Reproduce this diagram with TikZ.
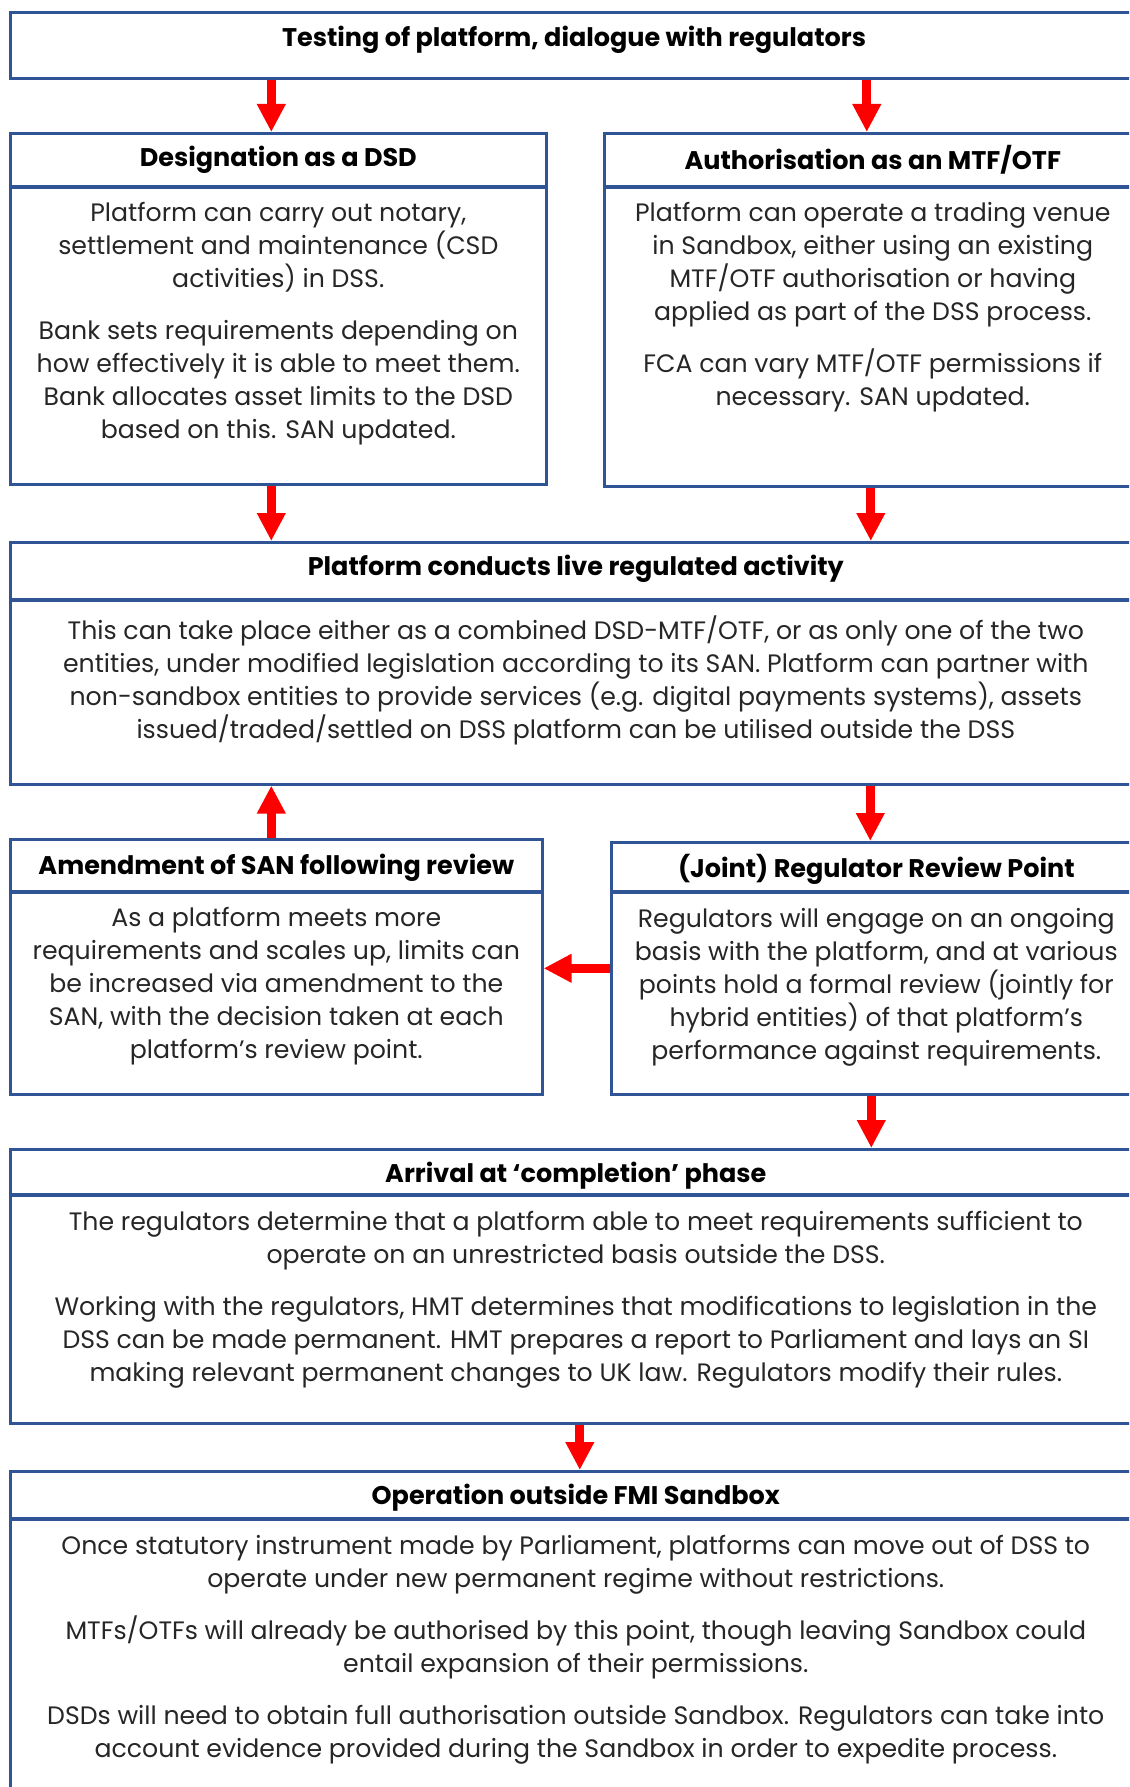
\documentclass[tikz,border=0pt]{standalone}
\usepackage{fontspec}
\setmainfont{Poppins}
\usetikzlibrary{positioning,arrows.meta,calc}
\definecolor{boxBlue}{HTML}{2F5597}
\definecolor{flowRed}{HTML}{FF0000}
\definecolor{bodyInk}{HTML}{262626}

\tikzset{
  frame/.style={draw=boxBlue, line width=2.6pt, inner sep=0pt, anchor=north west},
  divider/.style={draw=boxBlue, line width=4.5pt},
  hdr/.style={font=\bfseries\fontsize{25.5}{30}\selectfont, inner sep=0pt},
  body/.style={font=\fontsize{25.2}{33}\selectfont, text=bodyInk, align=center, inner sep=0pt, anchor=north},
  flow/.style={-{Triangle[width=27pt, length=28pt]}, draw=flowRed, fill=flowRed, line width=9pt}
}

\begin{document}
\begin{tikzpicture}[x=1pt, y=-1pt]
  \useasboundingbox (0,0) rectangle (1129,1787);
  \clip (0,0) rectangle (1129,1787);

  % top box
  \node[frame, minimum width=1131pt, minimum height=66pt] (top) at (9,11) {};
  \node[hdr] (topH) at (574,40) {Testing of platform, dialogue with regulators};

  % designation as a DSD
  \node[frame, minimum width=536pt, minimum height=351pt] (dsd) at (9,132) {};
  \draw[divider] ([yshift=-55pt]dsd.north west) -- ([yshift=-55pt]dsd.north east);
  \node[hdr] (dsdH) at ([yshift=-28pt]dsd.north) {Designation as a DSD};
  \node[body] (dsdB) at ([yshift=-70pt]dsd.north) {Platform can carry out notary,\\ settlement and maintenance (CSD\\ activities) in DSS.\\[19pt]
    Bank sets requirements depending on\\ how effectively it is able to meet them.\\ Bank allocates asset limits to the DSD\\ based on this. SAN updated.};

  % authorisation as MTF/OTF
  \node[frame, minimum width=537pt, minimum height=353pt] (mtf) at (603,132) {};
  \draw[divider] ([yshift=-55pt]mtf.north west) -- ([yshift=-55pt]mtf.north east);
  \node[hdr] (mtfH) at ([yshift=-28pt]mtf.north) {Authorisation as an MTF/OTF};
  \node[body] (mtfB) at ([yshift=-70pt]mtf.north) {Platform can operate a trading venue\\ in Sandbox, either using an existing\\ MTF/OTF authorisation or having\\ applied as part of the DSS process.\\[19pt]
    FCA can vary MTF/OTF permissions if\\ necessary. SAN updated.};

  % live regulated activity
  \node[frame, minimum width=1131pt, minimum height=242pt] (live) at (9,541) {};
  \draw[divider] ([yshift=-59pt]live.north west) -- ([yshift=-59pt]live.north east);
  \node[hdr] (liveH) at ([yshift=-28pt]live.north) {Platform conducts live regulated activity};
  \node[body] (liveB) at ([yshift=-75pt]live.north) {This can take place either as a combined DSD-MTF/OTF, or as only one of the two\\ entities, under modified legislation according to its SAN. Platform can partner with\\ non-sandbox entities to provide services (e.g. digital payments systems), assets\\ issued/traded/settled on DSS platform can be utilised outside the DSS};

  % amendment of SAN
  \node[frame, minimum width=532pt, minimum height=255pt] (amend) at (9,838) {};
  \draw[divider] ([yshift=-54pt]amend.north west) -- ([yshift=-54pt]amend.north east);
  \node[hdr] (amendH) at ([yshift=-30pt]amend.north) {Amendment of SAN following review};
  \node[body] (amendB) at ([yshift=-69pt]amend.north) {As a platform meets more\\ requirements and scales up, limits can\\ be increased via amendment to the\\ SAN, with the decision taken at each\\ platform’s review point.};

  % regulator review point
  \node[frame, minimum width=530pt, minimum height=252pt] (review) at (610,841) {};
  \draw[divider] ([yshift=-51pt]review.north west) -- ([yshift=-51pt]review.north east);
  \node[hdr] (reviewH) at ([yshift=-28pt]review.north) {(Joint) Regulator Review Point};
  \node[body] (reviewB) at ([yshift=-67pt]review.north) {Regulators will engage on an ongoing\\ basis with the platform, and at various\\ points hold a formal review (jointly for\\ hybrid entities) of that platform’s\\ performance against requirements.};

  % completion phase
  \node[frame, minimum width=1131pt, minimum height=274pt] (done) at (9,1148) {};
  \node[hdr] (doneH) at ([yshift=-28pt]done.north) {Arrival at ‘completion’ phase};
  \draw[divider] ([yshift=-47pt]done.north west) -- ([yshift=-47pt]done.north east);
  \node[body] (doneB) at ([yshift=-63pt]done.north) {The regulators determine that a platform able to meet requirements sufficient to\\ operate on an unrestricted basis outside the DSS.\\[19pt]
    Working with the regulators, HMT determines that modifications to legislation in the\\ DSS can be made permanent. HMT prepares a report to Parliament and lays an SI\\ making relevant permanent changes to UK law. Regulators modify their rules.};

  % operation outside sandbox
  \node[frame, minimum width=1131pt, minimum height=340pt] (outside) at (9,1470) {};
  \draw[divider] ([yshift=-49pt]outside.north west) -- ([yshift=-49pt]outside.north east);
  \node[hdr] (outsideH) at ([yshift=-28pt]outside.north) {Operation outside FMI Sandbox};
  \node[body] (outsideB) at ([yshift=-65pt]outside.north) {Once statutory instrument made by Parliament, platforms can move out of DSS to\\ operate under new permanent regime without restrictions.\\[19pt]
    MTFs/OTFs will already be authorised by this point, though leaving Sandbox could\\ entail expansion of their permissions.\\[19pt]
    DSDs will need to obtain full authorisation outside Sandbox. Regulators can take into\\ account evidence provided during the Sandbox in order to expedite process.};

  % arrows
  \draw[flow] ([xshift=-7pt]dsd.north |- top.south) -- ([xshift=-7pt]dsd.north);
  \draw[flow] ([xshift=-6pt]mtf.north |- top.south) -- ([xshift=-6pt]mtf.north);
  \draw[flow] ([xshift=-7pt]dsd.south) -- ([xshift=-7pt]dsd.south |- live.north);
  \draw[flow] ([xshift=-2pt]mtf.south) -- ([xshift=-2pt]mtf.south |- live.north);
  \draw[flow] ([xshift=-5pt]amend.north) -- ([xshift=-5pt]amend.north |- live.south);
  \draw[flow] ([xshift=-6pt]review.north |- live.south) -- ([xshift=-6pt]review.north);
  \draw[flow] (review.west) -- (review.west -| amend.east);
  \draw[flow] ([xshift=-5pt]review.south) -- ([xshift=-5pt]review.south |- done.north);
  \draw[flow] ([xshift=4pt]done.south) -- ([xshift=4pt]done.south |- outside.north);
\end{tikzpicture}
\end{document}
